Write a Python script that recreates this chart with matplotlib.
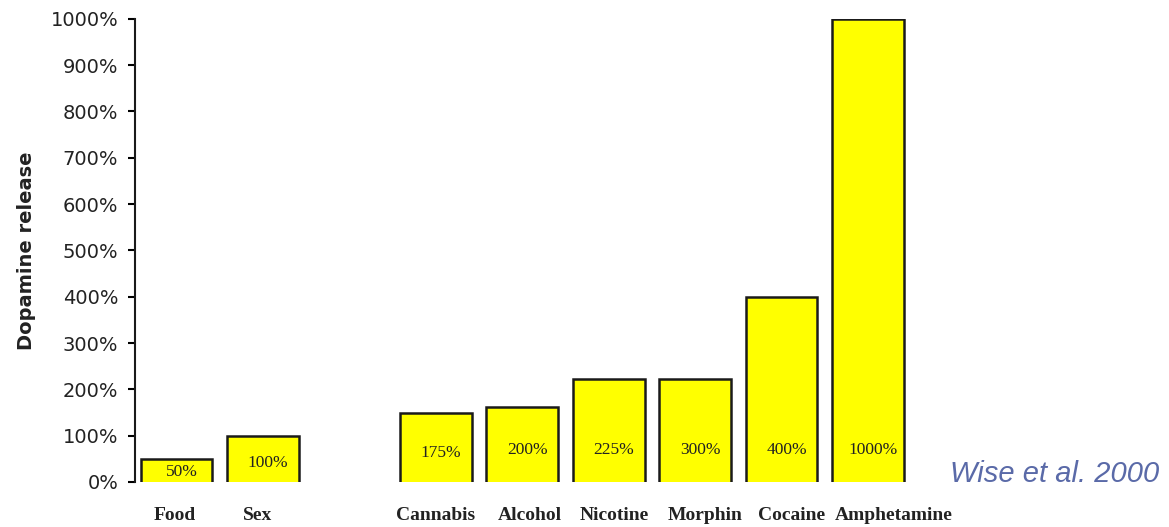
import numpy as np
import matplotlib
matplotlib.use("Agg")
import matplotlib.pyplot as plt
from matplotlib.ticker import FuncFormatter
from matplotlib.transforms import offset_copy

# data
categories = ["Food", "Sex", "Cannabis", "Alcohol", "Nicotine", "Morphin", "Cocaine", "Amphetamine"]
slots = [0, 1, 3, 4, 5, 6, 7, 8]
release_pct = [50, 100, 150, 162, 222, 222, 400, 1000]
bar_labels = ["50%", "100%", "175%", "200%", "225%", "300%", "400%", "1000%"]
y_ticks = list(range(0, 1001, 100))

BAR_WIDTH = 0.83
YELLOW = "#FFFF00"
TEXT_DARK = "#222222"

fig = plt.figure(figsize=(11.69, 5.27), dpi=100)
ax = fig.add_axes([0.1155, 0.0854, 0.664, 0.879])

x = np.array(slots, dtype=float)
h = np.array(release_pct, dtype=float)
ax.bar(x, h, width=BAR_WIDTH, color=YELLOW, edgecolor="none", zorder=2)

# outline on left, top and right only (no bottom edge as in the original)
for xi, hi in zip(x, h):
    left, right = xi - BAR_WIDTH / 2, xi + BAR_WIDTH / 2
    ax.plot([left, left, right, right], [0, hi, hi, 0], color="#1a1a1a", lw=1.8,
            solid_joinstyle="miter", zorder=3)

for xi, hi, lab in zip(x, h, bar_labels):
    ax.text(xi + 0.06, min(0.42 * hi, 70), lab, ha="center", va="center",
            family="Liberation Serif", fontsize=12.5, color=TEXT_DARK, zorder=4)

ax.set_xlim(-0.48, 8.5)
ax.set_ylim(0, 1000)
ax.set_yticks(y_ticks)
ax.yaxis.set_major_formatter(FuncFormatter(lambda v, p: f"{int(v)}%"))
ax.set_xticks([])

# category labels: in the original they sit a little right of their bars, the last one most
label_nudge_px = [-2, -5, 0, 8, 6, 10, 10, 26]
for xi, name, dx in zip(x, categories, label_nudge_px):
    tr = offset_copy(ax.get_xaxis_transform(), fig=fig, x=dx, y=-25, units="dots")
    ax.text(xi, 0, name, transform=tr, ha="center", va="top", family="Liberation Serif",
            fontweight="bold", fontsize=14, color=TEXT_DARK, clip_on=False)

for side in ["top", "right", "bottom"]:
    ax.spines[side].set_visible(False)
ax.spines["left"].set_linewidth(1.5)
ax.spines["left"].set_color("#1a1a1a")

ax.tick_params(axis="y", length=5, width=1.5, pad=7, labelsize=14, labelcolor=TEXT_DARK)
for t in ax.get_yticklabels():
    t.set_family("DejaVu Sans")

ax.set_ylabel("Dopamine release", family="DejaVu Sans", fontweight="bold",
              fontsize=14, color=TEXT_DARK)
ax.yaxis.set_label_coords(-0.128, 0.5)

fig.text(0.992, 0.101, "Wise et al. 2000", ha="right", va="center", style="italic",
         family="Liberation Sans", fontsize=21, color="#5a6aa8")

fig.savefig("out.png", dpi=100)
